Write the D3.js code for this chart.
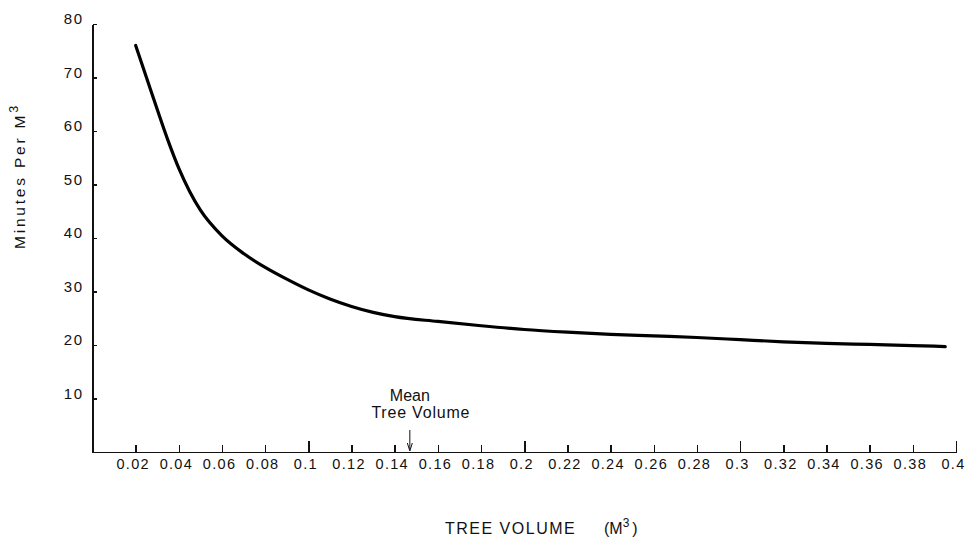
<!DOCTYPE html>
<html>
<head>
<meta charset="utf-8">
<script src="https://cdn.jsdelivr.net/npm/d3@7"></script>
<style>
  html, body { margin: 0; padding: 0; background: #fff; }
  svg { display: block; font-family: "Liberation Sans", Arial, Helvetica, sans-serif; }
  .axis path, .axis line { stroke: #111; stroke-width: 1.5; shape-rendering: crispEdges; }
  .axis text { fill: #111; }
</style>
</head>
<body>
<svg id="chart" width="965" height="538"></svg>
<script>
// Felling time per cubic metre as a function of tree volume
const treeVolume = [0.02, 0.025, 0.03, 0.035, 0.04, 0.045, 0.05, 0.06, 0.07, 0.08, 0.09, 0.1,
                    0.11, 0.12, 0.13, 0.14, 0.16, 0.18, 0.2, 0.22, 0.24, 0.26, 0.28,
                    0.3, 0.32, 0.34, 0.36, 0.38, 0.395];
const minutesPerM3 = [76.0, 70.0, 64.0, 58.2, 53.0, 48.7, 45.2, 40.4, 37.1, 34.5, 32.3, 30.3,
                      28.6, 27.2, 26.1, 25.3, 24.4, 23.6, 22.9, 22.4, 22.0, 21.7, 21.4,
                      21.0, 20.6, 20.3, 20.1, 19.9, 19.7];

const xTickValues = [0.02, 0.04, 0.06, 0.08, 0.1, 0.12, 0.14, 0.16, 0.18, 0.2,
                     0.22, 0.24, 0.26, 0.28, 0.3, 0.32, 0.34, 0.36, 0.38, 0.4];
const xTickLabels = ["0.02", "0.04", "0.06", "0.08", "0.1", "0.12", "0.14", "0.16", "0.18", "0.2",
                     "0.22", "0.24", "0.26", "0.28", "0.3", "0.32", "0.34", "0.36", "0.38", "0.4"];
const xMajorTicks = [0.1, 0.2, 0.3, 0.4];
const yTickValues = [10, 20, 30, 40, 50, 60, 70, 80];
const meanTreeVolume = 0.147;

const svg = d3.select("#chart");

const x = d3.scaleLinear().domain([0, 0.4]).range([92.5, 956]);
const y = d3.scaleLinear().domain([0, 80]).range([452, 24]);

// X axis: ticks point up into the plot, longer ticks at each tenth
const xAxis = d3.axisBottom(x)
  .tickValues(xTickValues)
  .tickFormat((d, i) => xTickLabels[i])
  .tickSize(-7)
  .tickSizeOuter(0)
  .tickPadding(7);

const gx = svg.append("g")
  .attr("class", "axis x-axis")
  .attr("transform", `translate(0,${y(0)})`)
  .call(xAxis);

gx.selectAll(".tick")
  .filter(d => xMajorTicks.some(m => Math.abs(m - d) < 1e-9))
  .select("line")
  .attr("y2", -11);

gx.selectAll(".tick text")
  .attr("dx", -3)
  .style("font-size", "14.5px")
  .style("letter-spacing", "1.3px");

// Y axis: short ticks pointing right
const yAxis = d3.axisLeft(y)
  .tickValues(yTickValues)
  .tickSize(-4)
  .tickSizeOuter(0)
  .tickPadding(9);

const gy = svg.append("g")
  .attr("class", "axis y-axis")
  .attr("transform", `translate(${x(0)},0)`)
  .call(yAxis);

gy.selectAll(".tick text")
  .attr("dy", 0)
  .attr("y", -0.5)
  .style("font-size", "15px")
  .style("letter-spacing", "1.5px");

// Curve
const line = d3.line()
  .x((d, i) => x(treeVolume[i]))
  .y(d => y(d))
  .curve(d3.curveMonotoneX);

svg.append("path")
  .datum(minutesPerM3)
  .attr("fill", "none")
  .attr("stroke", "#000")
  .attr("stroke-width", 3.2)
  .attr("stroke-linecap", "round")
  .attr("stroke-linejoin", "round")
  .attr("d", line);

// Mean tree volume marker
const mx = x(meanTreeVolume);
svg.append("text")
  .attr("x", mx)
  .attr("y", 401)
  .attr("text-anchor", "middle")
  .style("font-size", "16px")
  .attr("fill", "#111")
  .text("Mean");
svg.append("text")
  .attr("x", mx + 11)
  .attr("y", 418)
  .attr("text-anchor", "middle")
  .style("font-size", "16px")
  .style("letter-spacing", "0.8px")
  .attr("fill", "#111")
  .text("Tree Volume");
svg.append("line")
  .attr("x1", mx).attr("x2", mx)
  .attr("y1", 430).attr("y2", 449)
  .attr("stroke", "#111")
  .attr("stroke-width", 1);
svg.append("path")
  .attr("d", `M${mx - 2.5},${443} L${mx},${451} L${mx + 2.5},${443}`)
  .attr("fill", "none")
  .attr("stroke", "#111")
  .attr("stroke-width", 1);

// Axis titles
svg.append("text")
  .attr("x", 445)
  .attr("y", 534)
  .style("font-size", "16px")
  .style("letter-spacing", "1.5px")
  .attr("fill", "#111")
  .text("TREE VOLUME");

const unitX = svg.append("text")
  .attr("x", 604)
  .attr("y", 534)
  .style("font-size", "16px")
  .attr("fill", "#111");
unitX.append("tspan").text("(M");
unitX.append("tspan").attr("dy", -7).style("font-size", "12px").text("3");
unitX.append("tspan").attr("dy", 7).attr("dx", 3).text(")");

const yTitle = svg.append("text")
  .attr("transform", "translate(25,176) rotate(-90)")
  .attr("text-anchor", "middle")
  .style("font-size", "15.5px")
  .style("letter-spacing", "2.8px")
  .attr("fill", "#111");
yTitle.append("tspan").text("Minutes Per M");
yTitle.append("tspan").attr("dy", -7).style("font-size", "12.5px").text("3");
</script>
</body>
</html>
